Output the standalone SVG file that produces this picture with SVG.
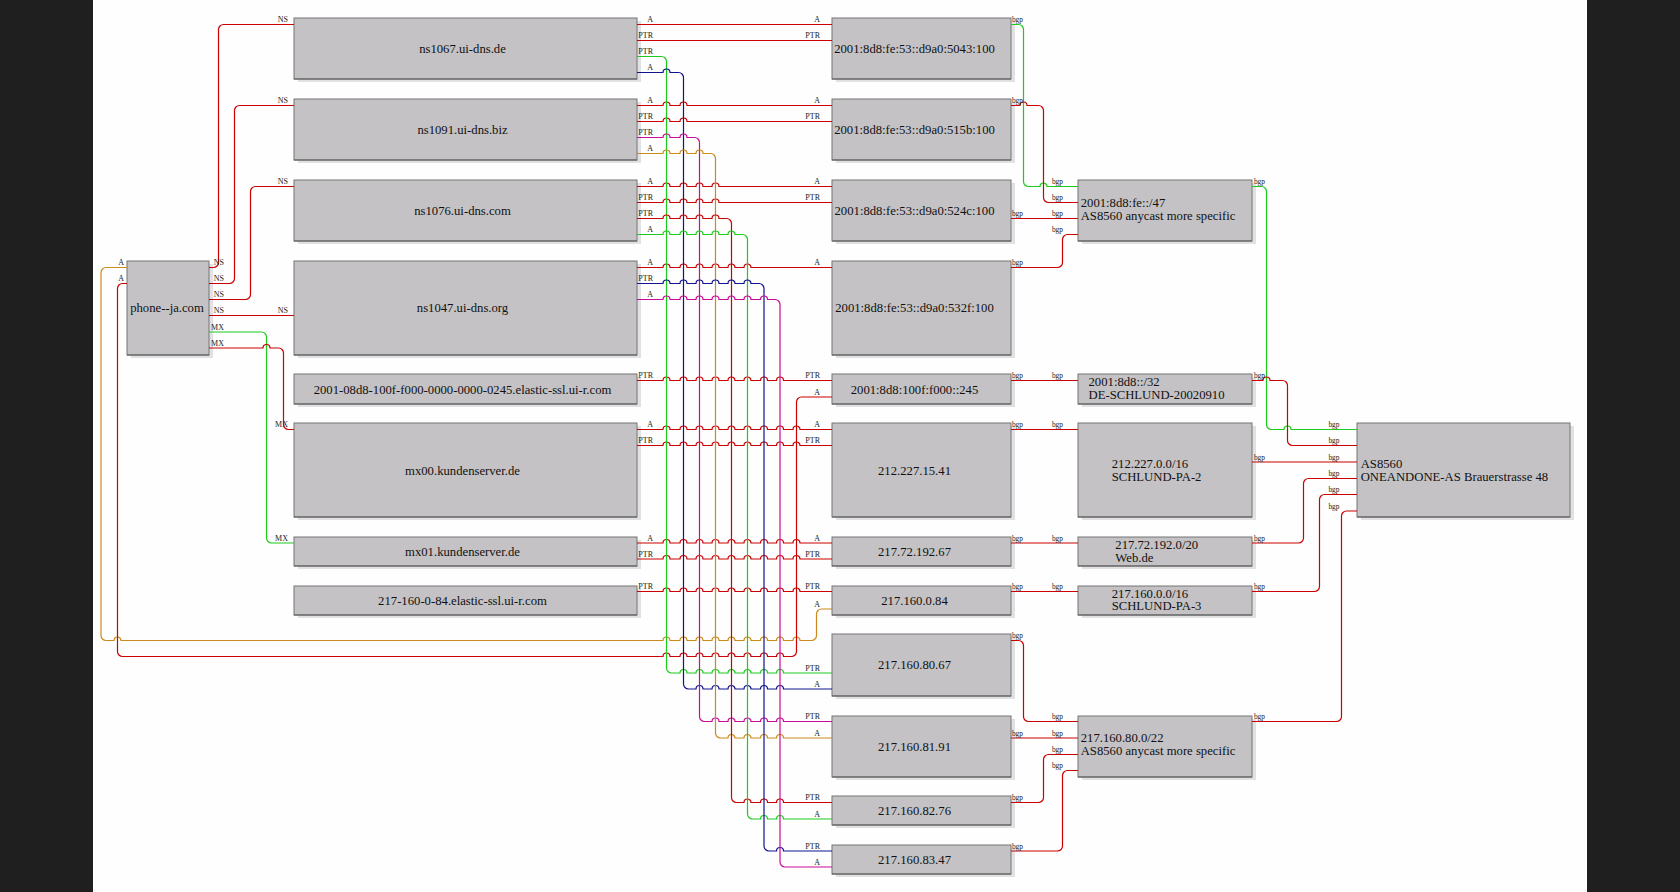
<svg xmlns="http://www.w3.org/2000/svg" width="1680" height="892" viewBox="0 0 1680 892">
<style>
.sh{fill:#e1e0e3}
.bx{fill:#c4c2c5;stroke:#747474;stroke-width:1}
.bl{stroke:#5a5a5a;stroke-width:1}
.nt{font-family:"Liberation Serif",serif;font-size:12.7px;fill:#111;text-anchor:middle}
.nl{font-family:"Liberation Serif",serif;font-size:12.7px;fill:#111}
.e{fill:none;stroke-width:1.2}
.r{stroke:#cc0000}.g{stroke:#1ccc1c}.u{stroke:#12128f}.m{stroke:#cc0a99}.o{stroke:#cc8a1a}
.l{font-family:"Liberation Serif",serif;font-size:8px;fill:#222;text-anchor:end}
.k{font-family:"Liberation Serif",serif;font-size:7.4px;fill:#222;text-anchor:end}
</style>
<rect x="0" y="0" width="1680" height="892" fill="#1f1f1f"/>
<rect x="93" y="0" width="1494" height="892" fill="#fdfefd"/>

<g id="phone"><rect class="sh" x="131" y="264" width="82" height="94"/><rect class="bx" x="127" y="261" width="82" height="94"/><line class="bl" x1="127" y1="355" x2="209" y2="355"/><text class="nt" x="167" y="312.3">phone--ja.com</text></g>

<g id="ns1067"><rect class="sh" x="298" y="21" width="343" height="61"/><rect class="bx" x="294" y="18" width="343" height="61"/><line class="bl" x1="294" y1="79" x2="637" y2="79"/><text class="nt" x="462.5" y="52.8">ns1067.ui-dns.de</text></g>
<g id="ns1091"><rect class="sh" x="298" y="102" width="343" height="61"/><rect class="bx" x="294" y="99" width="343" height="61"/><line class="bl" x1="294" y1="160" x2="637" y2="160"/><text class="nt" x="462.5" y="133.8">ns1091.ui-dns.biz</text></g>
<g id="ns1076"><rect class="sh" x="298" y="183" width="343" height="61"/><rect class="bx" x="294" y="180" width="343" height="61"/><line class="bl" x1="294" y1="241" x2="637" y2="241"/><text class="nt" x="462.5" y="214.8">ns1076.ui-dns.com</text></g>
<g id="ns1047"><rect class="sh" x="298" y="264" width="343" height="94"/><rect class="bx" x="294" y="261" width="343" height="94"/><line class="bl" x1="294" y1="355" x2="637" y2="355"/><text class="nt" x="462.5" y="312.3">ns1047.ui-dns.org</text></g>
<g id="elastic6"><rect class="sh" x="298" y="377" width="343" height="30"/><rect class="bx" x="294" y="374" width="343" height="30"/><line class="bl" x1="294" y1="404" x2="637" y2="404"/><text class="nt" x="462.5" y="393.5">2001-08d8-100f-f000-0000-0000-0245.elastic-ssl.ui-r.com</text></g>
<g id="mx00"><rect class="sh" x="298" y="426" width="343" height="94"/><rect class="bx" x="294" y="423" width="343" height="94"/><line class="bl" x1="294" y1="517" x2="637" y2="517"/><text class="nt" x="462.5" y="474.5">mx00.kundenserver.de</text></g>
<g id="mx01"><rect class="sh" x="298" y="540" width="343" height="29"/><rect class="bx" x="294" y="537" width="343" height="29"/><line class="bl" x1="294" y1="566" x2="637" y2="566"/><text class="nt" x="462.5" y="555.8">mx01.kundenserver.de</text></g>
<g id="elastic4"><rect class="sh" x="298" y="589" width="343" height="29"/><rect class="bx" x="294" y="586" width="343" height="29"/><line class="bl" x1="294" y1="615" x2="637" y2="615"/><text class="nt" x="462.5" y="604.8">217-160-0-84.elastic-ssl.ui-r.com</text></g>

<g id="ip5043"><rect class="sh" x="836" y="21" width="179" height="61"/><rect class="bx" x="832" y="18" width="179" height="61"/><line class="bl" x1="832" y1="79" x2="1011" y2="79"/><text class="nt" x="914.5" y="52.8">2001:8d8:fe:53::d9a0:5043:100</text></g>
<g id="ip515b"><rect class="sh" x="836" y="102" width="179" height="61"/><rect class="bx" x="832" y="99" width="179" height="61"/><line class="bl" x1="832" y1="160" x2="1011" y2="160"/><text class="nt" x="914.5" y="133.8">2001:8d8:fe:53::d9a0:515b:100</text></g>
<g id="ip524c"><rect class="sh" x="836" y="183" width="179" height="61"/><rect class="bx" x="832" y="180" width="179" height="61"/><line class="bl" x1="832" y1="241" x2="1011" y2="241"/><text class="nt" x="914.5" y="214.8">2001:8d8:fe:53::d9a0:524c:100</text></g>
<g id="ip532f"><rect class="sh" x="836" y="264" width="179" height="94"/><rect class="bx" x="832" y="261" width="179" height="94"/><line class="bl" x1="832" y1="355" x2="1011" y2="355"/><text class="nt" x="914.5" y="312">2001:8d8:fe:53::d9a0:532f:100</text></g>
<g id="ip245"><rect class="sh" x="836" y="377" width="179" height="30"/><rect class="bx" x="832" y="374" width="179" height="30"/><line class="bl" x1="832" y1="404" x2="1011" y2="404"/><text class="nt" x="914.5" y="393.5">2001:8d8:100f:f000::245</text></g>
<g id="ip212.227.15.41"><rect class="sh" x="836" y="426" width="179" height="94"/><rect class="bx" x="832" y="423" width="179" height="94"/><line class="bl" x1="832" y1="517" x2="1011" y2="517"/><text class="nt" x="914.5" y="474.5">212.227.15.41</text></g>
<g id="ip217.72.192.67"><rect class="sh" x="836" y="540" width="179" height="29"/><rect class="bx" x="832" y="537" width="179" height="29"/><line class="bl" x1="832" y1="566" x2="1011" y2="566"/><text class="nt" x="914.5" y="555.8">217.72.192.67</text></g>
<g id="ip217.160.0.84"><rect class="sh" x="836" y="589" width="179" height="29"/><rect class="bx" x="832" y="586" width="179" height="29"/><line class="bl" x1="832" y1="615" x2="1011" y2="615"/><text class="nt" x="914.5" y="604.8">217.160.0.84</text></g>
<g id="ip217.160.80.67"><rect class="sh" x="836" y="637" width="179" height="62"/><rect class="bx" x="832" y="634" width="179" height="62"/><line class="bl" x1="832" y1="696" x2="1011" y2="696"/><text class="nt" x="914.5" y="669.3">217.160.80.67</text></g>
<g id="ip217.160.81.91"><rect class="sh" x="836" y="719" width="179" height="61"/><rect class="bx" x="832" y="716" width="179" height="61"/><line class="bl" x1="832" y1="777" x2="1011" y2="777"/><text class="nt" x="914.5" y="750.8">217.160.81.91</text></g>
<g id="ip217.160.82.76"><rect class="sh" x="836" y="799" width="179" height="29"/><rect class="bx" x="832" y="796" width="179" height="29"/><line class="bl" x1="832" y1="825" x2="1011" y2="825"/><text class="nt" x="914.5" y="814.8">217.160.82.76</text></g>
<g id="ip217.160.83.47"><rect class="sh" x="836" y="848" width="179" height="29"/><rect class="bx" x="832" y="845" width="179" height="29"/><line class="bl" x1="832" y1="874" x2="1011" y2="874"/><text class="nt" x="914.5" y="863.8">217.160.83.47</text></g>

<g id="net47"><rect class="sh" x="1082" y="183" width="174" height="61"/><rect class="bx" x="1078" y="180" width="174" height="61"/><line class="bl" x1="1078" y1="241" x2="1252" y2="241"/><text class="nl" x="1080.7" y="207"><tspan x="1080.7">2001:8d8:fe::/47</tspan><tspan x="1080.7" dy="13.3">AS8560 anycast more specific</tspan></text></g>
<g id="net32"><rect class="sh" x="1082" y="377" width="174" height="30"/><rect class="bx" x="1078" y="374" width="174" height="30"/><line class="bl" x1="1078" y1="404" x2="1252" y2="404"/><text class="nl" x="1088.5" y="386"><tspan x="1088.5">2001:8d8::/32</tspan><tspan x="1088.5" dy="13.3">DE-SCHLUND-20020910</tspan></text></g>
<g id="net212"><rect class="sh" x="1082" y="426" width="174" height="94"/><rect class="bx" x="1078" y="423" width="174" height="94"/><line class="bl" x1="1078" y1="517" x2="1252" y2="517"/><text class="nl" x="1111.7" y="467.7"><tspan x="1111.7">212.227.0.0/16</tspan><tspan x="1111.7" dy="13.3">SCHLUND-PA-2</tspan></text></g>
<g id="net20"><rect class="sh" x="1082" y="540" width="174" height="29"/><rect class="bx" x="1078" y="537" width="174" height="29"/><line class="bl" x1="1078" y1="566" x2="1252" y2="566"/><text class="nl" x="1115.3" y="549"><tspan x="1115.3">217.72.192.0/20</tspan><tspan x="1115.3" dy="12.7">Web.de</tspan></text></g>
<g id="net16"><rect class="sh" x="1082" y="589" width="174" height="29"/><rect class="bx" x="1078" y="586" width="174" height="29"/><line class="bl" x1="1078" y1="615" x2="1252" y2="615"/><text class="nl" x="1111.7" y="597.7"><tspan x="1111.7">217.160.0.0/16</tspan><tspan x="1111.7" dy="12.5">SCHLUND-PA-3</tspan></text></g>
<g id="net22"><rect class="sh" x="1082" y="719" width="174" height="61"/><rect class="bx" x="1078" y="716" width="174" height="61"/><line class="bl" x1="1078" y1="777" x2="1252" y2="777"/><text class="nl" x="1080.7" y="741.7"><tspan x="1080.7">217.160.80.0/22</tspan><tspan x="1080.7" dy="13.5">AS8560 anycast more specific</tspan></text></g>

<g id="as8560"><rect class="sh" x="1361" y="426" width="213" height="94"/><rect class="bx" x="1357" y="423" width="213" height="94"/><line class="bl" x1="1357" y1="517" x2="1570" y2="517"/><text class="nl" x="1360.7" y="467.7"><tspan x="1360.7">AS8560</tspan><tspan x="1360.7" dy="13.3">ONEANDONE-AS Brauerstrasse 48</tspan></text></g>

<g id="connectors">
<path class="e r" d="M209,267.5H213.5a5,5 0 0 0 5,-5V29.5a5,5 0 0 1 5,-5H294"/>
<path class="e r" d="M209,283.5H229.5a5,5 0 0 0 5,-5V110.5a5,5 0 0 1 5,-5H294"/>
<path class="e r" d="M209,299.5H245.5a5,5 0 0 0 5,-5V191.5a5,5 0 0 1 5,-5H294"/>
<path class="e r" d="M209,315.5H294"/>
<path class="e g" d="M209,332H261.5a5,5 0 0 1 5,5V538a5,5 0 0 0 5,5H294"/>
<path class="e r" d="M209,348H263a3.5,3.5 0 0 1 7,0H278.5a5,5 0 0 1 5,5V424.5a5,5 0 0 0 5,5H294"/>
<path class="e o" d="M127,267.5H106a5,5 0 0 0 -5,5V635.5a5,5 0 0 0 5,5H114a3.5,3.5 0 0 1 7,0H663a3.5,3.5 0 0 1 7,0H680a3.5,3.5 0 0 1 7,0H696a3.5,3.5 0 0 1 7,0H712a3.5,3.5 0 0 1 7,0H728a3.5,3.5 0 0 1 7,0H744a3.5,3.5 0 0 1 7,0H760.5a3.5,3.5 0 0 1 7,0H776.5a3.5,3.5 0 0 1 7,0H793a3.5,3.5 0 0 1 7,0H811.5a5,5 0 0 0 5,-5V614a5,5 0 0 1 5,-5H832"/>
<path class="e r" d="M127,283.5H122.5a5,5 0 0 0 -5,5V651.5a5,5 0 0 0 5,5H663a3.5,3.5 0 0 1 7,0H680a3.5,3.5 0 0 1 7,0H696a3.5,3.5 0 0 1 7,0H712a3.5,3.5 0 0 1 7,0H728a3.5,3.5 0 0 1 7,0H744a3.5,3.5 0 0 1 7,0H760.5a3.5,3.5 0 0 1 7,0H776.5a3.5,3.5 0 0 1 7,0H791.5a5,5 0 0 0 5,-5V402a5,5 0 0 1 5,-5H832"/>

<path class="e r" d="M637,24.5H832"/>
<path class="e r" d="M637,40.5H832"/>
<path class="e r" d="M637,105.5H663a3.5,3.5 0 0 1 7,0H680a3.5,3.5 0 0 1 7,0H832"/>
<path class="e r" d="M637,121.5H663a3.5,3.5 0 0 1 7,0H680a3.5,3.5 0 0 1 7,0H832"/>
<path class="e r" d="M637,186.5H663a3.5,3.5 0 0 1 7,0H680a3.5,3.5 0 0 1 7,0H696a3.5,3.5 0 0 1 7,0H712a3.5,3.5 0 0 1 7,0H832"/>
<path class="e r" d="M637,202.5H663a3.5,3.5 0 0 1 7,0H680a3.5,3.5 0 0 1 7,0H696a3.5,3.5 0 0 1 7,0H712a3.5,3.5 0 0 1 7,0H832"/>
<path class="e r" d="M637,267.5H663a3.5,3.5 0 0 1 7,0H680a3.5,3.5 0 0 1 7,0H696a3.5,3.5 0 0 1 7,0H712a3.5,3.5 0 0 1 7,0H728a3.5,3.5 0 0 1 7,0H744a3.5,3.5 0 0 1 7,0H832"/>
<path class="e r" d="M637,380.5H663a3.5,3.5 0 0 1 7,0H680a3.5,3.5 0 0 1 7,0H696a3.5,3.5 0 0 1 7,0H712a3.5,3.5 0 0 1 7,0H728a3.5,3.5 0 0 1 7,0H744a3.5,3.5 0 0 1 7,0H760.5a3.5,3.5 0 0 1 7,0H776.5a3.5,3.5 0 0 1 7,0H832"/>
<path class="e r" d="M637,429.5H663a3.5,3.5 0 0 1 7,0H680a3.5,3.5 0 0 1 7,0H696a3.5,3.5 0 0 1 7,0H712a3.5,3.5 0 0 1 7,0H728a3.5,3.5 0 0 1 7,0H744a3.5,3.5 0 0 1 7,0H760.5a3.5,3.5 0 0 1 7,0H776.5a3.5,3.5 0 0 1 7,0H793a3.5,3.5 0 0 1 7,0H832"/>
<path class="e r" d="M637,445.5H663a3.5,3.5 0 0 1 7,0H680a3.5,3.5 0 0 1 7,0H696a3.5,3.5 0 0 1 7,0H712a3.5,3.5 0 0 1 7,0H728a3.5,3.5 0 0 1 7,0H744a3.5,3.5 0 0 1 7,0H760.5a3.5,3.5 0 0 1 7,0H776.5a3.5,3.5 0 0 1 7,0H793a3.5,3.5 0 0 1 7,0H832"/>
<path class="e r" d="M637,543H663a3.5,3.5 0 0 1 7,0H680a3.5,3.5 0 0 1 7,0H696a3.5,3.5 0 0 1 7,0H712a3.5,3.5 0 0 1 7,0H728a3.5,3.5 0 0 1 7,0H744a3.5,3.5 0 0 1 7,0H760.5a3.5,3.5 0 0 1 7,0H776.5a3.5,3.5 0 0 1 7,0H793a3.5,3.5 0 0 1 7,0H832"/>
<path class="e r" d="M637,559H663a3.5,3.5 0 0 1 7,0H680a3.5,3.5 0 0 1 7,0H696a3.5,3.5 0 0 1 7,0H712a3.5,3.5 0 0 1 7,0H728a3.5,3.5 0 0 1 7,0H744a3.5,3.5 0 0 1 7,0H760.5a3.5,3.5 0 0 1 7,0H776.5a3.5,3.5 0 0 1 7,0H793a3.5,3.5 0 0 1 7,0H832"/>
<path class="e r" d="M637,591.5H663a3.5,3.5 0 0 1 7,0H680a3.5,3.5 0 0 1 7,0H696a3.5,3.5 0 0 1 7,0H712a3.5,3.5 0 0 1 7,0H728a3.5,3.5 0 0 1 7,0H744a3.5,3.5 0 0 1 7,0H760.5a3.5,3.5 0 0 1 7,0H776.5a3.5,3.5 0 0 1 7,0H793a3.5,3.5 0 0 1 7,0H832"/>

<path class="e g" d="M637,56.5H661.5a5,5 0 0 1 5,5V668a5,5 0 0 0 5,5H680a3.5,3.5 0 0 1 7,0H696a3.5,3.5 0 0 1 7,0H712a3.5,3.5 0 0 1 7,0H728a3.5,3.5 0 0 1 7,0H744a3.5,3.5 0 0 1 7,0H760.5a3.5,3.5 0 0 1 7,0H776.5a3.5,3.5 0 0 1 7,0H832"/>
<path class="e u" d="M637,72.5H663a3.5,3.5 0 0 1 7,0H678.5a5,5 0 0 1 5,5V684a5,5 0 0 0 5,5H696a3.5,3.5 0 0 1 7,0H712a3.5,3.5 0 0 1 7,0H728a3.5,3.5 0 0 1 7,0H744a3.5,3.5 0 0 1 7,0H760.5a3.5,3.5 0 0 1 7,0H776.5a3.5,3.5 0 0 1 7,0H832"/>
<path class="e m" d="M637,137.5H663a3.5,3.5 0 0 1 7,0H680a3.5,3.5 0 0 1 7,0H694.5a5,5 0 0 1 5,5V716.5a5,5 0 0 0 5,5H712a3.5,3.5 0 0 1 7,0H728a3.5,3.5 0 0 1 7,0H744a3.5,3.5 0 0 1 7,0H760.5a3.5,3.5 0 0 1 7,0H776.5a3.5,3.5 0 0 1 7,0H832"/>
<path class="e o" d="M637,153.5H663a3.5,3.5 0 0 1 7,0H680a3.5,3.5 0 0 1 7,0H696a3.5,3.5 0 0 1 7,0H710.5a5,5 0 0 1 5,5V733a5,5 0 0 0 5,5H728a3.5,3.5 0 0 1 7,0H744a3.5,3.5 0 0 1 7,0H760.5a3.5,3.5 0 0 1 7,0H776.5a3.5,3.5 0 0 1 7,0H832"/>
<path class="e r" d="M637,218.5H663a3.5,3.5 0 0 1 7,0H680a3.5,3.5 0 0 1 7,0H696a3.5,3.5 0 0 1 7,0H712a3.5,3.5 0 0 1 7,0H726.5a5,5 0 0 1 5,5V797.5a5,5 0 0 0 5,5H744a3.5,3.5 0 0 1 7,0H760.5a3.5,3.5 0 0 1 7,0H776.5a3.5,3.5 0 0 1 7,0H832"/>
<path class="e g" d="M637,234.5H663a3.5,3.5 0 0 1 7,0H680a3.5,3.5 0 0 1 7,0H696a3.5,3.5 0 0 1 7,0H712a3.5,3.5 0 0 1 7,0H728a3.5,3.5 0 0 1 7,0H742.5a5,5 0 0 1 5,5V814a5,5 0 0 0 5,5H760.5a3.5,3.5 0 0 1 7,0H776.5a3.5,3.5 0 0 1 7,0H832"/>
<path class="e u" d="M637,283.5H663a3.5,3.5 0 0 1 7,0H680a3.5,3.5 0 0 1 7,0H696a3.5,3.5 0 0 1 7,0H712a3.5,3.5 0 0 1 7,0H728a3.5,3.5 0 0 1 7,0H744a3.5,3.5 0 0 1 7,0H759a5,5 0 0 1 5,5V846a5,5 0 0 0 5,5H776.5a3.5,3.5 0 0 1 7,0H832"/>
<path class="e m" d="M637,299.5H663a3.5,3.5 0 0 1 7,0H680a3.5,3.5 0 0 1 7,0H696a3.5,3.5 0 0 1 7,0H712a3.5,3.5 0 0 1 7,0H728a3.5,3.5 0 0 1 7,0H744a3.5,3.5 0 0 1 7,0H760.5a3.5,3.5 0 0 1 7,0H775a5,5 0 0 1 5,5V862a5,5 0 0 0 5,5H832"/>

<path class="e g" d="M1011,24.5H1018.5a5,5 0 0 1 5,5V181.5a5,5 0 0 0 5,5H1040a3.5,3.5 0 0 1 7,0H1078"/>
<path class="e r" d="M1011,105.5H1020a3.5,3.5 0 0 1 7,0H1038.5a5,5 0 0 1 5,5V197.5a5,5 0 0 0 5,5H1078"/>
<path class="e r" d="M1011,218.5H1078"/>
<path class="e r" d="M1011,267.5H1057.5a5,5 0 0 0 5,-5V239.5a5,5 0 0 1 5,-5H1078"/>
<path class="e r" d="M1011,380.5H1078"/>
<path class="e r" d="M1011,429.5H1078"/>
<path class="e r" d="M1011,543H1078"/>
<path class="e r" d="M1011,591.5H1078"/>
<path class="e r" d="M1011,640.5H1018.5a5,5 0 0 1 5,5V716.5a5,5 0 0 0 5,5H1078"/>
<path class="e r" d="M1011,738H1078"/>
<path class="e r" d="M1011,802.5H1038.5a5,5 0 0 0 5,-5V759.5a5,5 0 0 1 5,-5H1078"/>
<path class="e r" d="M1011,851H1057.5a5,5 0 0 0 5,-5V775.5a5,5 0 0 1 5,-5H1078"/>

<path class="e g" d="M1252,186.5H1261.5a5,5 0 0 1 5,5V424.5a5,5 0 0 0 5,5H1284a3.5,3.5 0 0 1 7,0H1357"/>
<path class="e r" d="M1252,380.5H1263a3.5,3.5 0 0 1 7,0H1282.5a5,5 0 0 1 5,5V440.5a5,5 0 0 0 5,5H1357"/>
<path class="e r" d="M1252,462H1357"/>
<path class="e r" d="M1252,543H1298.5a5,5 0 0 0 5,-5V483.5a5,5 0 0 1 5,-5H1357"/>
<path class="e r" d="M1252,591.5H1314.5a5,5 0 0 0 5,-5V499.5a5,5 0 0 1 5,-5H1357"/>
<path class="e r" d="M1252,721.5H1336.5a5,5 0 0 0 5,-5V516a5,5 0 0 1 5,-5H1357"/>

<g id="labels">
<text class="l" x="124" y="265">A</text><text class="l" x="124" y="281">A</text>
<text class="l" x="224" y="265">NS</text><text class="l" x="224" y="281">NS</text><text class="l" x="224" y="297">NS</text><text class="l" x="224" y="313">NS</text><text class="l" x="224" y="329.5">MX</text><text class="l" x="224" y="345.5">MX</text>
<text class="l" x="288" y="22">NS</text><text class="l" x="288" y="103">NS</text><text class="l" x="288" y="184">NS</text><text class="l" x="288" y="313">NS</text><text class="l" x="288" y="427">MX</text><text class="l" x="288" y="540.5">MX</text>

<text class="l" x="653" y="22">A</text><text class="l" x="653" y="38">PTR</text><text class="l" x="653" y="54">PTR</text><text class="l" x="653" y="70">A</text>
<text class="l" x="653" y="103">A</text><text class="l" x="653" y="119">PTR</text><text class="l" x="653" y="135">PTR</text><text class="l" x="653" y="151">A</text>
<text class="l" x="653" y="184">A</text><text class="l" x="653" y="200">PTR</text><text class="l" x="653" y="216">PTR</text><text class="l" x="653" y="232">A</text>
<text class="l" x="653" y="265">A</text><text class="l" x="653" y="281">PTR</text><text class="l" x="653" y="297">A</text>
<text class="l" x="653" y="378">PTR</text>
<text class="l" x="653" y="427">A</text><text class="l" x="653" y="443">PTR</text>
<text class="l" x="653" y="540.5">A</text><text class="l" x="653" y="556.5">PTR</text>
<text class="l" x="653" y="589">PTR</text>

<text class="l" x="820" y="22">A</text><text class="l" x="820" y="38">PTR</text>
<text class="l" x="820" y="103">A</text><text class="l" x="820" y="119">PTR</text>
<text class="l" x="820" y="184">A</text><text class="l" x="820" y="200">PTR</text>
<text class="l" x="820" y="265">A</text>
<text class="l" x="820" y="378">PTR</text><text class="l" x="820" y="394.5">A</text>
<text class="l" x="820" y="427">A</text><text class="l" x="820" y="443">PTR</text>
<text class="l" x="820" y="540.5">A</text><text class="l" x="820" y="556.5">PTR</text>
<text class="l" x="820" y="589">PTR</text><text class="l" x="820" y="606.5">A</text>
<text class="l" x="820" y="670.5">PTR</text><text class="l" x="820" y="686.5">A</text>
<text class="l" x="820" y="719">PTR</text><text class="l" x="820" y="735.5">A</text>
<text class="l" x="820" y="800">PTR</text><text class="l" x="820" y="816.5">A</text>
<text class="l" x="820" y="848.5">PTR</text><text class="l" x="820" y="864.5">A</text>

<text class="k" x="1023" y="22">bgp</text><text class="k" x="1023" y="103">bgp</text><text class="k" x="1023" y="216">bgp</text><text class="k" x="1023" y="265">bgp</text><text class="k" x="1023" y="378">bgp</text><text class="k" x="1023" y="427">bgp</text><text class="k" x="1023" y="540.5">bgp</text><text class="k" x="1023" y="589">bgp</text><text class="k" x="1023" y="638">bgp</text><text class="k" x="1023" y="735.5">bgp</text><text class="k" x="1023" y="800">bgp</text><text class="k" x="1023" y="848.5">bgp</text>

<text class="k" x="1063" y="184">bgp</text><text class="k" x="1063" y="200">bgp</text><text class="k" x="1063" y="216">bgp</text><text class="k" x="1063" y="232">bgp</text><text class="k" x="1063" y="378">bgp</text><text class="k" x="1063" y="427">bgp</text><text class="k" x="1063" y="540.5">bgp</text><text class="k" x="1063" y="589">bgp</text><text class="k" x="1063" y="719">bgp</text><text class="k" x="1063" y="735.5">bgp</text><text class="k" x="1063" y="752">bgp</text><text class="k" x="1063" y="768">bgp</text>

<text class="k" x="1265" y="184">bgp</text><text class="k" x="1265" y="378">bgp</text><text class="k" x="1265" y="459.5">bgp</text><text class="k" x="1265" y="540.5">bgp</text><text class="k" x="1265" y="589">bgp</text><text class="k" x="1265" y="719">bgp</text>

<text class="k" x="1339.5" y="427">bgp</text><text class="k" x="1339.5" y="443">bgp</text><text class="k" x="1339.5" y="459.5">bgp</text><text class="k" x="1339.5" y="476">bgp</text><text class="k" x="1339.5" y="492">bgp</text><text class="k" x="1339.5" y="508.5">bgp</text>
</g>
</g>
</svg>
